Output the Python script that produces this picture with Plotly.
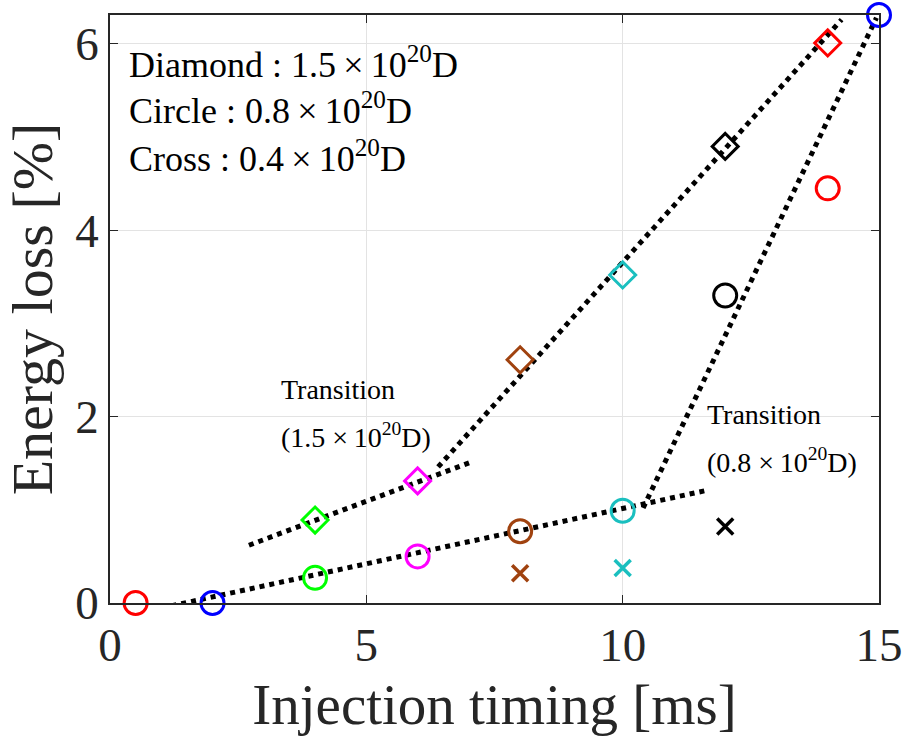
import plotly.graph_objects as go

# ---- data ----
# Diamonds: 1.5e20 D
dia_x = [4, 6, 8, 10, 12, 14]
dia_y = [0.89, 1.31, 2.61, 3.52, 4.90, 6.01]
dia_c = ["#00FF00", "#FF00FF", "#A0420F", "#1ABFBF", "#000000", "#FF0000"]

# Circles: 0.8e20 D
cir_x = [0.5, 2, 4, 6, 8, 10, 12, 14, 15]
cir_y = [0.0, 0.0, 0.27, 0.50, 0.77, 0.99, 3.30, 4.45, 6.31]
cir_c = ["#FF0000", "#0000FF", "#00FF00", "#FF00FF", "#A0420F", "#1ABFBF",
         "#000000", "#FF0000", "#0000FF"]

# Crosses: 0.4e20 D
crs_x = [8, 10, 12]
crs_y = [0.32, 0.375, 0.82]
crs_c = ["#A0420F", "#1ABFBF", "#000000"]

# dotted guide lines (endpoints)
fit_low_circle_x = [1.2, 11.65]
fit_low_circle_y = [-0.03, 1.21]
fit_low_dia_x = [2.71, 7.08]
fit_low_dia_y = [0.62, 1.52]
fit_up_dia_x = [6.4, 14.27]
fit_up_dia_y = [1.46, 6.26]
fit_up_circle_x = [10.4, 14.95]
fit_up_circle_y = [1.02, 6.28]

x_ticks = [0, 5, 10, 15]
y_ticks = [0, 2, 4, 6]

FONT = "Liberation Serif, Times New Roman, serif"
TXT = "#262626"
TIMES = "\u2009\u00d7\u2009"

fig = go.Figure()

for fx, fy in [(fit_low_circle_x, fit_low_circle_y), (fit_low_dia_x, fit_low_dia_y),
               (fit_up_dia_x, fit_up_dia_y), (fit_up_circle_x, fit_up_circle_y)]:
    fig.add_trace(go.Scatter(x=fx, y=fy, mode="lines", cliponaxis=False,
                             line=dict(color="black", width=5, dash="dot"),
                             showlegend=False, hoverinfo="skip"))

fig.add_trace(go.Scatter(x=dia_x, y=dia_y, mode="markers", cliponaxis=False,
                         marker=dict(symbol="diamond-open", size=20,
                                     color=dia_c, line=dict(width=3, color=dia_c)),
                         showlegend=False))
fig.add_trace(go.Scatter(x=cir_x, y=cir_y, mode="markers", cliponaxis=False,
                         marker=dict(symbol="circle-open", size=23,
                                     color=cir_c, line=dict(width=3, color=cir_c)),
                         showlegend=False))
fig.add_trace(go.Scatter(x=crs_x, y=crs_y, mode="markers", cliponaxis=False,
                         marker=dict(symbol="x-thin-open", size=16,
                                     color=crs_c, line=dict(width=3.5, color=crs_c)),
                         showlegend=False))

notes = [
    (0.33, 5.80, "Diamond : 1.5" + TIMES + "10<sup>20</sup>D", 36),
    (0.33, 5.31, "Circle : 0.8" + TIMES + "10<sup>20</sup>D", 36),
    (0.33, 4.79, "Cross : 0.4" + TIMES + "10<sup>20</sup>D", 36),
    (3.29, 2.29, "Transition", 28),
    (3.29, 1.80, "(1.5 \u00d7\u200910<sup>20</sup>D)", 28),
    (11.6, 2.02, "Transition", 28),
    (11.6, 1.53, "(0.8 \u00d7\u200910<sup>20</sup>D)", 28),
]
for x, y, t, s in notes:
    fig.add_annotation(x=x, y=y, text=t, showarrow=False, xanchor="left",
                       yanchor="middle", font=dict(family=FONT, size=s, color="black"))

axis_common = dict(showline=True, linecolor=TXT, linewidth=1.5, mirror="ticks",
                   ticks="inside", ticklen=8, tickcolor=TXT, showgrid=True,
                   gridcolor="#E3E3E3", gridwidth=1, zeroline=False,
                   tickfont=dict(family=FONT, size=47, color=TXT))

fig.update_xaxes(range=[0, 15], tickvals=x_ticks, **axis_common,
                 title=dict(text="Injection timing [ms]", standoff=14,
                            font=dict(family=FONT, size=57, color=TXT)))
fig.update_yaxes(range=[0, 6.31], tickvals=y_ticks, **axis_common,
                 title=dict(text="Energy loss [%]", standoff=6,
                            font=dict(family=FONT, size=58, color=TXT)))

fig.update_layout(width=915, height=742, paper_bgcolor="white", plot_bgcolor="white",
                  margin=dict(l=110, r=30, t=15, b=139))

fig.write_html("out.html")
